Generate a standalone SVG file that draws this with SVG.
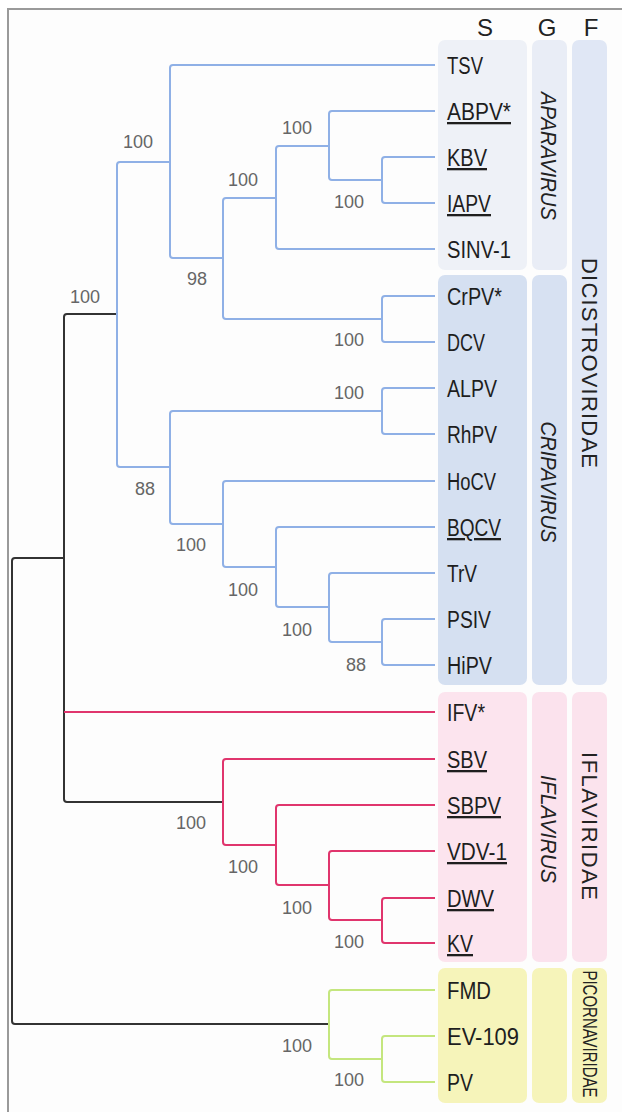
<svg xmlns="http://www.w3.org/2000/svg" width="622" height="1112" viewBox="0 0 622 1112">
<style>
.tx{font-family:"Liberation Sans",Arial,sans-serif;font-size:23px;fill:#1e1e1e}
.u{text-decoration:underline}
.bs{font-family:"Liberation Sans",Arial,sans-serif;font-size:18px;fill:#666;text-anchor:end}
.hd{font-family:"Liberation Sans",Arial,sans-serif;font-size:24px;fill:#222;text-anchor:middle}
.gn{font-family:"Liberation Sans",Arial,sans-serif;font-size:22px;font-style:italic;fill:#222;text-anchor:middle}
.fm{font-family:"Liberation Sans",Arial,sans-serif;font-size:22px;fill:#222;text-anchor:middle}
.b{fill:none;stroke:#8fb0e6;stroke-width:2}
.k{fill:none;stroke:#333;stroke-width:2}
.r{fill:none;stroke:#e0356d;stroke-width:2}
.g{fill:none;stroke:#c4e67e;stroke-width:2}
</style>
<rect x="0" y="0" width="622" height="1112" fill="#ffffff"/>
<rect x="8" y="9" width="700" height="1200" fill="#fdfdfd" stroke="#9a9a9a" stroke-width="2"/>

<g id="boxes">
  <rect x="438" y="40" width="89" height="230" rx="7" fill="#eef1f7"/>
  <rect x="532" y="40" width="35" height="230" rx="7" fill="#e9edf6"/>
  <rect x="438" y="275" width="89" height="410" rx="7" fill="#d5e0f1"/>
  <rect x="532" y="275" width="35" height="410" rx="7" fill="#d7e1f2"/>
  <rect x="572" y="40" width="35" height="645" rx="7" fill="#e0e7f5"/>
  <rect x="438" y="692" width="89" height="270" rx="7" fill="#fce4ee"/>
  <rect x="532" y="692" width="35" height="270" rx="7" fill="#fbe2ed"/>
  <rect x="572" y="692" width="35" height="270" rx="7" fill="#fbe3ed"/>
  <rect x="438" y="968" width="89" height="135" rx="7" fill="#f6f4ba"/>
  <rect x="532" y="968" width="35" height="135" rx="7" fill="#f6f4ba"/>
  <rect x="572" y="968" width="35" height="135" rx="7" fill="#f6f4ba"/>
</g>

<g id="headers">
  <text class="hd" x="485" y="36">S</text>
  <text class="hd" x="547" y="36">G</text>
  <text class="hd" x="591" y="36">F</text>
</g>

<g id="connectors">
  <path class="k" d="M64 558 H15 Q12 558 12 561 V1021 Q12 1024 15 1024 H329"/>
  <path class="k" d="M117 314 H67 Q64 314 64 317 V799 Q64 802 67 802 H223"/>
  <path class="r" d="M64 712 H435"/>
  <path class="b" d="M170 162 H120 Q117 162 117 165 V464 Q117 467 120 467 H170"/>
  <path class="b" d="M435 65 H173 Q170 65 170 68 V255 Q170 258 173 258 H223"/>
  <path class="b" d="M276 198 H226 Q223 198 223 201 V316 Q223 319 226 319 H382"/>
  <path class="b" d="M329 146 H279 Q276 146 276 149 V246 Q276 249 279 249 H435"/>
  <path class="b" d="M435 111 H332 Q329 111 329 114 V177 Q329 180 332 180 H382"/>
  <path class="b" d="M435 157 H385 Q382 157 382 160 V200 Q382 203 385 203 H435"/>
  <path class="b" d="M435 296 H385 Q382 296 382 299 V339 Q382 342 385 342 H435"/>
  <path class="b" d="M382 411 H173 Q170 411 170 414 V521 Q170 524 173 524 H223"/>
  <path class="b" d="M435 388 H385 Q382 388 382 391 V431 Q382 434 385 434 H435"/>
  <path class="b" d="M435 481 H226 Q223 481 223 484 V564 Q223 567 226 567 H276"/>
  <path class="b" d="M435 527 H279 Q276 527 276 530 V604 Q276 607 279 607 H329"/>
  <path class="b" d="M435 573 H332 Q329 573 329 576 V639 Q329 642 332 642 H382"/>
  <path class="b" d="M435 619 H385 Q382 619 382 622 V662 Q382 665 385 665 H435"/>
  <path class="r" d="M435 759 H226 Q223 759 223 762 V842 Q223 845 226 845 H276"/>
  <path class="r" d="M435 805 H279 Q276 805 276 808 V882 Q276 885 279 885 H329"/>
  <path class="r" d="M435 851 H332 Q329 851 329 854 V917 Q329 920 332 920 H382"/>
  <path class="r" d="M435 898 H385 Q382 898 382 901 V940 Q382 943 385 943 H435"/>
  <path class="g" d="M435 990 H332 Q329 990 329 993 V1056 Q329 1059 332 1059 H382"/>
  <path class="g" d="M435 1036 H385 Q382 1036 382 1039 V1079 Q382 1082 385 1082 H435"/>
</g>

<g id="bootstrap">
  <text class="bs" x="153" y="148">100</text>
  <text class="bs" x="312" y="134">100</text>
  <text class="bs" x="258" y="186">100</text>
  <text class="bs" x="364" y="208">100</text>
  <text class="bs" x="207" y="285">98</text>
  <text class="bs" x="100" y="303">100</text>
  <text class="bs" x="364" y="346">100</text>
  <text class="bs" x="364" y="399">100</text>
  <text class="bs" x="155" y="495">88</text>
  <text class="bs" x="206" y="551">100</text>
  <text class="bs" x="258" y="596">100</text>
  <text class="bs" x="312" y="636">100</text>
  <text class="bs" x="366" y="671">88</text>
  <text class="bs" x="206" y="829">100</text>
  <text class="bs" x="258" y="873">100</text>
  <text class="bs" x="312" y="914">100</text>
  <text class="bs" x="364" y="948">100</text>
  <text class="bs" x="312" y="1052">100</text>
  <text class="bs" x="364" y="1086">100</text>
</g>

<g id="taxa">
  <g id="n-TSV"><text class="tx" x="447" y="74" textLength="36" lengthAdjust="spacingAndGlyphs">TSV</text></g>
  <g id="n-ABPV"><text class="tx u" x="447" y="120" textLength="64" lengthAdjust="spacingAndGlyphs">ABPV*</text></g>
  <g id="n-KBV"><text class="tx u" x="447" y="166" textLength="40" lengthAdjust="spacingAndGlyphs">KBV</text></g>
  <g id="n-IAPV"><text class="tx u" x="447" y="212" textLength="44" lengthAdjust="spacingAndGlyphs">IAPV</text></g>
  <g id="n-SINV1"><text class="tx" x="447" y="258" textLength="64" lengthAdjust="spacingAndGlyphs">SINV-1</text></g>
  <g id="n-CrPV"><text class="tx" x="447" y="305" textLength="55" lengthAdjust="spacingAndGlyphs">CrPV*</text></g>
  <g id="n-DCV"><text class="tx" x="447" y="351" textLength="38" lengthAdjust="spacingAndGlyphs">DCV</text></g>
  <g id="n-ALPV"><text class="tx" x="447" y="397" textLength="50" lengthAdjust="spacingAndGlyphs">ALPV</text></g>
  <g id="n-RhPV"><text class="tx" x="447" y="443" textLength="50" lengthAdjust="spacingAndGlyphs">RhPV</text></g>
  <g id="n-HoCV"><text class="tx" x="447" y="490" textLength="49" lengthAdjust="spacingAndGlyphs">HoCV</text></g>
  <g id="n-BQCV"><text class="tx u" x="447" y="536" textLength="54" lengthAdjust="spacingAndGlyphs">BQCV</text></g>
  <g id="n-TrV"><text class="tx" x="447" y="582" textLength="30" lengthAdjust="spacingAndGlyphs">TrV</text></g>
  <g id="n-PSIV"><text class="tx" x="447" y="628" textLength="44" lengthAdjust="spacingAndGlyphs">PSIV</text></g>
  <g id="n-HiPV"><text class="tx" x="447" y="674" textLength="45" lengthAdjust="spacingAndGlyphs">HiPV</text></g>
  <g id="n-IFV"><text class="tx" x="447" y="721" textLength="38" lengthAdjust="spacingAndGlyphs">IFV*</text></g>
  <g id="n-SBV"><text class="tx u" x="447" y="768" textLength="40" lengthAdjust="spacingAndGlyphs">SBV</text></g>
  <g id="n-SBPV"><text class="tx u" x="447" y="814" textLength="54" lengthAdjust="spacingAndGlyphs">SBPV</text></g>
  <g id="n-VDV1"><text class="tx u" x="447" y="860" textLength="60" lengthAdjust="spacingAndGlyphs">VDV-1</text></g>
  <g id="n-DWV"><text class="tx u" x="447" y="907" textLength="47" lengthAdjust="spacingAndGlyphs">DWV</text></g>
  <g id="n-KV"><text class="tx u" x="447" y="952" textLength="26" lengthAdjust="spacingAndGlyphs">KV</text></g>
  <g id="n-FMD"><text class="tx" x="447" y="999" textLength="44" lengthAdjust="spacingAndGlyphs">FMD</text></g>
  <g id="n-EV109"><text class="tx" x="447" y="1045" textLength="72" lengthAdjust="spacingAndGlyphs">EV-109</text></g>
  <g id="n-PV"><text class="tx" x="447" y="1091" textLength="26" lengthAdjust="spacingAndGlyphs">PV</text></g>
</g>

<g id="genera">
  <text class="gn" transform="translate(541,156) rotate(90)" x="0" y="0" textLength="128" lengthAdjust="spacingAndGlyphs">APARAVIRUS</text>
  <text class="gn" transform="translate(541,482) rotate(90)" x="0" y="0" textLength="121" lengthAdjust="spacingAndGlyphs">CRIPAVIRUS</text>
  <text class="gn" transform="translate(541,829) rotate(90)" x="0" y="0" textLength="108" lengthAdjust="spacingAndGlyphs">IFLAVIRUS</text>
</g>

<g id="families">
  <text class="fm" transform="translate(582,363) rotate(90)" x="0" y="0" textLength="210" lengthAdjust="spacing">DICISTROVIRIDAE</text>
  <text class="fm" transform="translate(582,826) rotate(90)" x="0" y="0" textLength="148" lengthAdjust="spacing">IFLAVIRIDAE</text>
  <text class="fm" style="font-size:20px" transform="translate(583,1034) rotate(90) scale(0.75,1)" x="0" y="0">PICORNAVIRIDAE</text>
</g>
</svg>
